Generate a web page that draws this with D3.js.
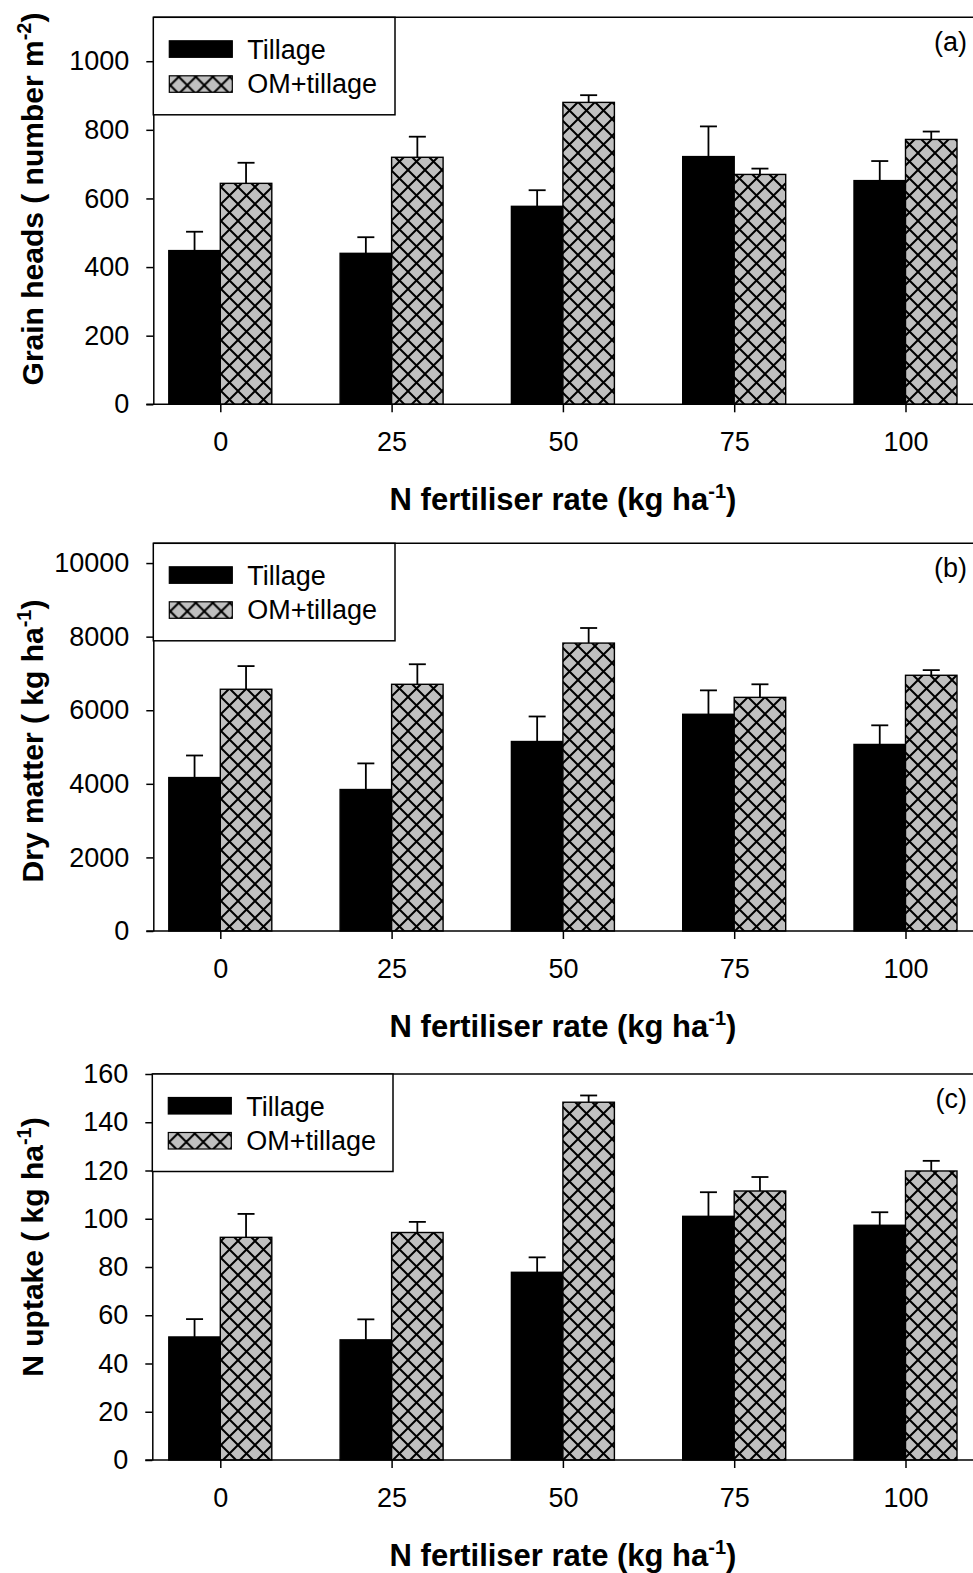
<!DOCTYPE html>
<html>
<head>
<meta charset="utf-8">
<script src="https://cdn.jsdelivr.net/npm/d3@7"></script>
<style>
    body { margin: 0; background: #fff; }
    svg text { font-family: "Liberation Sans", Arial, sans-serif; fill: #000; }
</style>
</head>
<body>
<svg id="chart" width="973" height="1573"></svg>
<script>
const rates = ["0", "25", "50", "75", "100"];
const series = ["Tillage", "OM+tillage"];

// (a) grain heads
const headsTillage = [448, 440, 577, 722, 652];
const headsTillageErr = [55, 47, 47, 88, 57];
const headsOm = [644, 720, 880, 670, 772];
const headsOmErr = [60, 60, 21, 17, 23];
const headsTicks = [0, 200, 400, 600, 800, 1000];

// (b) dry matter
const dryTillage = [4170, 3845, 5150, 5890, 5070];
const dryTillageErr = [600, 710, 680, 650, 520];
const dryOm = [6570, 6705, 7825, 6350, 6950];
const dryOmErr = [630, 545, 410, 355, 140];
const dryTicks = [0, 2000, 4000, 6000, 8000, 10000];

// (c) N uptake
const uptakeTillage = [51, 49.8, 77.8, 101, 97.3];
const uptakeTillageErr = [7.4, 8.5, 6.2, 10, 5.4];
const uptakeOm = [92.3, 94.3, 148.3, 111.5, 119.8];
const uptakeOmErr = [9.7, 4.4, 2.8, 5.8, 4.2];
const uptakeTicks = [0, 20, 40, 60, 80, 100, 120, 140, 160];

let svg = d3.select("#chart");

let defs = svg.append("defs");
let pattern = defs.append("pattern")
    .attr("id", "xhatch")
    .attr("patternUnits", "userSpaceOnUse")
    .attr("width", 17)
    .attr("height", 17);
pattern.append("rect")
    .attr("width", 17)
    .attr("height", 17)
    .attr("fill", "#c0c0c0");
pattern.append("path")
    .attr("d", "M0,0L17,17M17,0L0,17M-2,15L2,19M15,-2L19,2M-2,2L2,-2M15,19L19,15")
    .attr("stroke", "#000")
    .attr("stroke-width", 2);

let fills = {"Tillage": "#000", "OM+tillage": "url(#xhatch)"};

let x = d3.scalePoint().domain(rates).range([220.3, 905.5]);
let xInner = d3.scaleBand().domain(series).range([-51.5, 51.5]);

function titleWithSup(sel, main, sup) {
    sel.append("tspan").text(main);
    sel.append("tspan").attr("dy", -12).attr("font-size", "20px").text(sup);
    sel.append("tspan").attr("dy", 12).text(")");
}

let drawPanel = function (p) {
    let g = svg.append("g");
    let left = p.left, right = 973;

    let y = d3.scaleLinear().domain([0, p.max]).range([p.bottom, p.top]);

    let rows = rates.map(function (r, i) {
        return [
            {rate: r, key: "Tillage", v: p.tillage[i], e: p.tillageErr[i]},
            {rate: r, key: "OM+tillage", v: p.om[i], e: p.omErr[i]}
        ];
    }).flat();

    // frame top line
    g.append("line")
        .attr("x1", left).attr("x2", right)
        .attr("y1", p.top).attr("y2", p.top)
        .attr("stroke", "#000").attr("stroke-width", 1.5);

    // error bars (drawn first, the bar covers the lower end)
    let err = g.selectAll(".err").data(rows).enter().append("g").attr("class", "err");
    err.append("line")
        .attr("x1", function (d) { return x(d.rate) + xInner(d.key) + xInner.bandwidth() / 2; })
        .attr("x2", function (d) { return x(d.rate) + xInner(d.key) + xInner.bandwidth() / 2; })
        .attr("y1", function (d) { return y(d.v); })
        .attr("y2", function (d) { return y(d.v + d.e); })
        .attr("stroke", "#000").attr("stroke-width", 1.8);
    err.append("line")
        .attr("x1", function (d) { return x(d.rate) + xInner(d.key) + xInner.bandwidth() / 2 - 8.5; })
        .attr("x2", function (d) { return x(d.rate) + xInner(d.key) + xInner.bandwidth() / 2 + 8.5; })
        .attr("y1", function (d) { return y(d.v + d.e); })
        .attr("y2", function (d) { return y(d.v + d.e); })
        .attr("stroke", "#000").attr("stroke-width", 1.8);

    g.selectAll(".bar").data(rows).enter().append("rect")
        .attr("class", "bar")
        .attr("x", function (d) { return x(d.rate) + xInner(d.key); })
        .attr("width", xInner.bandwidth())
        .attr("y", function (d) { return y(d.v); })
        .attr("height", function (d) { return p.bottom - y(d.v); })
        .attr("fill", function (d) { return fills[d.key]; })
        .attr("stroke", "#000")
        .attr("stroke-width", 1.4);

    // y axis
    let yAxis = d3.axisLeft(y)
        .tickValues(p.ticks)
        .tickFormat(d3.format("d"))
        .tickSize(7).tickSizeOuter(0).tickPadding(17);
    let ya = g.append("g")
        .attr("transform", "translate(" + left + ",0)")
        .call(yAxis);
    ya.selectAll("path, line").attr("stroke", "#000").attr("stroke-width", 1.5);
    ya.selectAll("text").attr("font-size", "27px").attr("font-family", null);

    // x axis
    let xAxis = d3.axisBottom(x).tickSize(8).tickSizeOuter(0).tickPadding(20);
    let xa = g.append("g")
        .attr("transform", "translate(0," + p.bottom + ")")
        .call(xAxis);
    xa.select(".domain").remove();
    xa.selectAll("line").attr("stroke", "#000").attr("stroke-width", 1.5);
    xa.selectAll("text").attr("font-size", "27px").attr("font-family", null);
    g.append("line")
        .attr("x1", left - 7).attr("x2", right)
        .attr("y1", p.bottom).attr("y2", p.bottom)
        .attr("stroke", "#000").attr("stroke-width", 1.5);

    // legend
    let lg = g.append("g").attr("transform", "translate(" + left + "," + p.top + ")");
    lg.append("rect")
        .attr("width", p.legendW).attr("height", 97.5)
        .attr("fill", "#fff").attr("stroke", "#000").attr("stroke-width", 1.5);
    series.forEach(function (s, i) {
        lg.append("rect")
            .attr("x", 16).attr("y", 23.5 + i * 35)
            .attr("width", 63).attr("height", 16.5)
            .attr("fill", fills[s]).attr("stroke", "#000").attr("stroke-width", 1.2);
        lg.append("text")
            .attr("x", 94).attr("y", 42 + i * 33.5)
            .attr("font-size", "27px")
            .text(s);
    });

    // panel label
    g.append("text")
        .attr("x", 967).attr("y", p.top + 34)
        .attr("text-anchor", "end")
        .attr("font-size", "27px")
        .text(p.label);

    // axis titles
    let yt = g.append("text")
        .attr("transform", "translate(43," + p.yTitleY + ") rotate(-90)")
        .attr("text-anchor", "middle")
        .attr("font-size", "30px")
        .attr("font-weight", "bold");
    titleWithSup(yt, p.yTitle, p.yTitleSup);

    let xt = g.append("text")
        .attr("x", 563).attr("y", p.bottom + 106)
        .attr("text-anchor", "middle")
        .attr("font-size", "31px")
        .attr("font-weight", "bold");
    titleWithSup(xt, "N fertiliser rate (kg ha", "-1");
};

drawPanel({
    label: "(a)", left: 153.3, top: 17.3, bottom: 404.3, max: 1128, legendW: 241.7,
    ticks: headsTicks, tillage: headsTillage, tillageErr: headsTillageErr,
    om: headsOm, omErr: headsOmErr,
    yTitle: "Grain heads ( number m", yTitleSup: "-2", yTitleY: 199
});

drawPanel({
    label: "(b)", left: 153.3, top: 543.3, bottom: 931, max: 10537, legendW: 241.7,
    ticks: dryTicks, tillage: dryTillage, tillageErr: dryTillageErr,
    om: dryOm, omErr: dryOmErr,
    yTitle: "Dry matter ( kg ha", yTitleSup: "-1", yTitleY: 741
});

drawPanel({
    label: "(c)", left: 152.3, top: 1074, bottom: 1460, max: 160, legendW: 240.7,
    ticks: uptakeTicks, tillage: uptakeTillage, tillageErr: uptakeTillageErr,
    om: uptakeOm, omErr: uptakeOmErr,
    yTitle: "N uptake ( kg ha", yTitleSup: "-1", yTitleY: 1247
});
</script>
</body>
</html>
